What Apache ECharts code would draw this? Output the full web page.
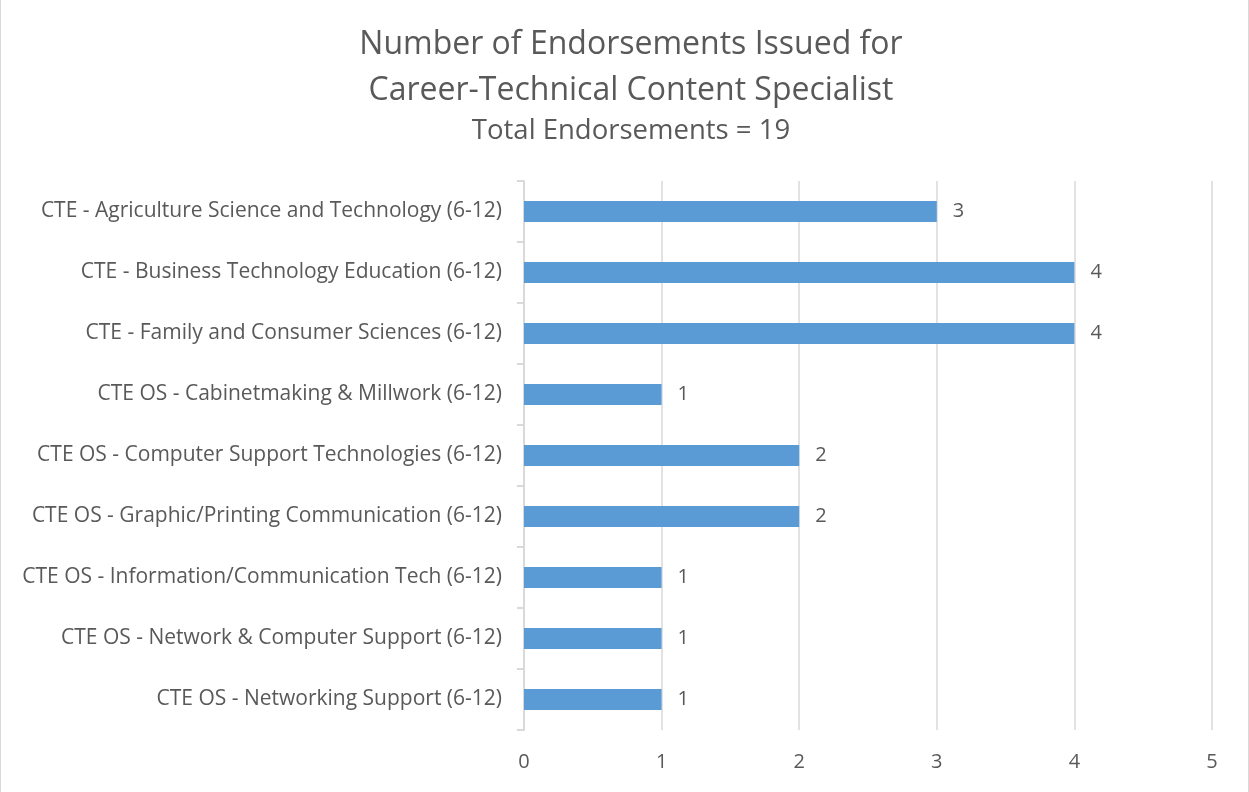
<!DOCTYPE html>
<html>
<head>
<meta charset="utf-8">
<script src="https://cdn.jsdelivr.net/npm/echarts@6/dist/echarts.min.js"></script>
<style>
  html, body { margin: 0; padding: 0; background: #fff; }
  #chart { position: absolute; left: 0; top: 0; width: 1249px; height: 792px;
           border-left: 1px solid #d9d9d9; border-right: 1px solid #d9d9d9; box-sizing: border-box; }
</style>
</head>
<body>
<div id="chart"></div>
<script>
// Endorsement categories (top to bottom) and their counts
const categories = [
  'CTE - Agriculture Science and Technology (6-12)',
  'CTE - Business Technology Education (6-12)',
  'CTE - Family and Consumer Sciences (6-12)',
  'CTE OS - Cabinetmaking & Millwork (6-12)',
  'CTE OS - Computer Support Technologies (6-12)',
  'CTE OS - Graphic/Printing Communication (6-12)',
  'CTE OS - Information/Communication Tech (6-12)',
  'CTE OS - Network & Computer Support (6-12)',
  'CTE OS - Networking Support (6-12)'
];
const counts = [3, 4, 4, 1, 2, 2, 1, 1, 1];
const xTicks = [0, 1, 2, 3, 4, 5];

const font = '"Open Sans", Lato, sans-serif';
const textColor = '#595959';

const chart = echarts.init(document.getElementById('chart'), null, { renderer: 'canvas' });
chart.setOption({
  animation: false,
  title: [
    {
      text: 'Number of Endorsements Issued for\nCareer-Technical Content Specialist',
      left: 625, top: 17, textAlign: 'center',
      textStyle: { fontFamily: font, fontSize: 32, fontWeight: 'normal', color: textColor, lineHeight: 46 }
    },
    {
      text: 'Total Endorsements = 19',
      left: 625, top: 112, textAlign: 'center',
      textStyle: { fontFamily: font, fontSize: 27.5, fontWeight: 'normal', color: textColor }
    }
  ],
  grid: { left: 523, right: 36, top: 181, bottom: 62, containLabel: false },
  xAxis: {
    type: 'value',
    min: xTicks[0], max: xTicks[xTicks.length - 1], interval: 1,
    axisLine: { show: false },
    axisTick: { show: false },
    axisLabel: { fontFamily: font, fontSize: 20, color: textColor, margin: 22 },
    splitLine: { show: true, lineStyle: { color: '#d9d9d9', width: 1.5 } }
  },
  yAxis: {
    type: 'category',
    inverse: true,
    data: categories,
    axisLine: { show: true, lineStyle: { color: '#d9d9d9', width: 2 } },
    axisTick: { show: true, length: 7, lineStyle: { color: '#d9d9d9', width: 2 } },
    axisLabel: { fontFamily: font, fontSize: 21, color: textColor, margin: 22, padding: [3, 0, 0, 0] }
  },
  series: [{
    type: 'bar',
    data: counts,
    barWidth: 21,
    itemStyle: { color: '#5b9bd5' },
    label: {
      show: true, position: 'right', distance: 16,
      fontFamily: font, fontSize: 20, color: textColor, padding: [3, 0, 0, 0]
    }
  }]
});
</script>
</body>
</html>
